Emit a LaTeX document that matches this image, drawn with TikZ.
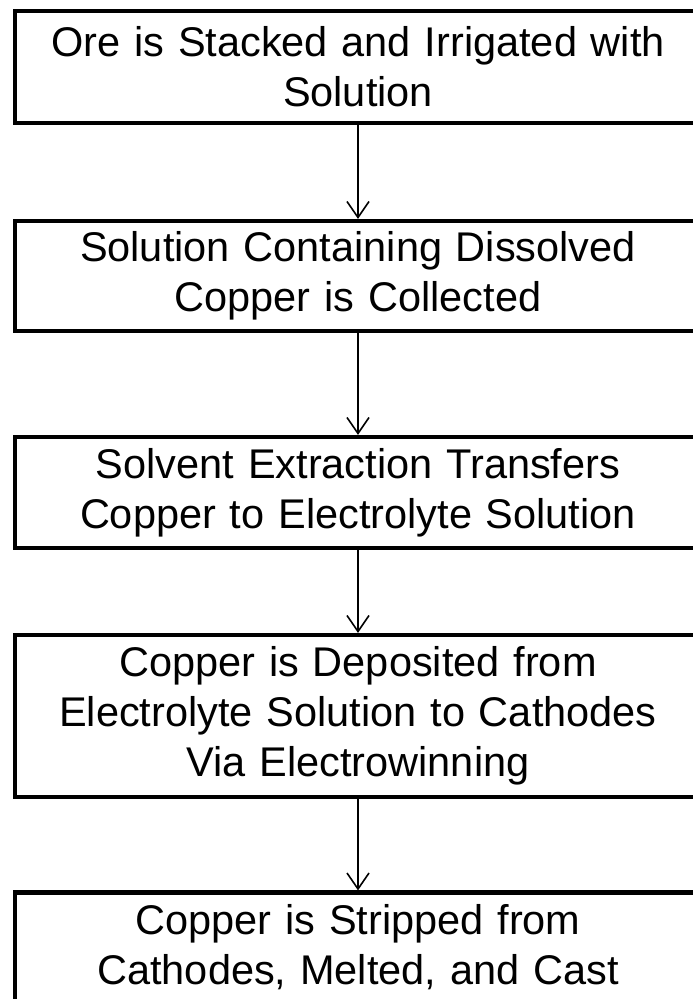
\documentclass[tikz,border=0pt]{standalone}
\usepackage{fontspec}
\setmainfont{Liberation Sans}
\newfontfamily\boxfont[WordSpace=1.35]{Liberation Sans}
\usetikzlibrary{arrows.meta}
\begin{document}
\begin{tikzpicture}[x=1pt,y=1pt,
  stepbox/.style={draw=black, line width=4.2pt, rectangle, minimum width=686pt,
    text width=670pt, align=center, inner sep=0pt,
    font=\boxfont\fontsize{41.5}{50}\selectfont},
  flow/.style={line width=1.6pt, -{Straight Barb[length=16pt,width=22pt,line width=1.6pt]}}]
\useasboundingbox (0,0) rectangle (693,-999);
\clip (0,0) rectangle (693,-999);
\node[stepbox, minimum height=112pt] (b1) at (358,-67) {Ore is Stacked and Irrigated with\\Solution};
\node[stepbox, minimum height=110pt] (b2) at (358,-276) {Solution Containing Dissolved\\Copper is Collected};
\node[stepbox, minimum height=111pt] (b3) at (358,-492.5) {Solvent Extraction Transfers\\Copper to Electrolyte Solution};
\node[stepbox, minimum height=162pt] (b4) at (358,-716) {Copper is Deposited from\\Electrolyte Solution to Cathodes\\Via Electrowinning};
\node[stepbox, minimum height=110pt] (b5) at (358,-947.5) {Copper is Stripped from\\Cathodes, Melted, and Cast};
\draw[flow] (b1.south) -- (b2.north);
\draw[flow] (b2.south) -- (b3.north);
\draw[flow] (b3.south) -- (b4.north);
\draw[flow] (b4.south) -- (b5.north);
\end{tikzpicture}
\end{document}
